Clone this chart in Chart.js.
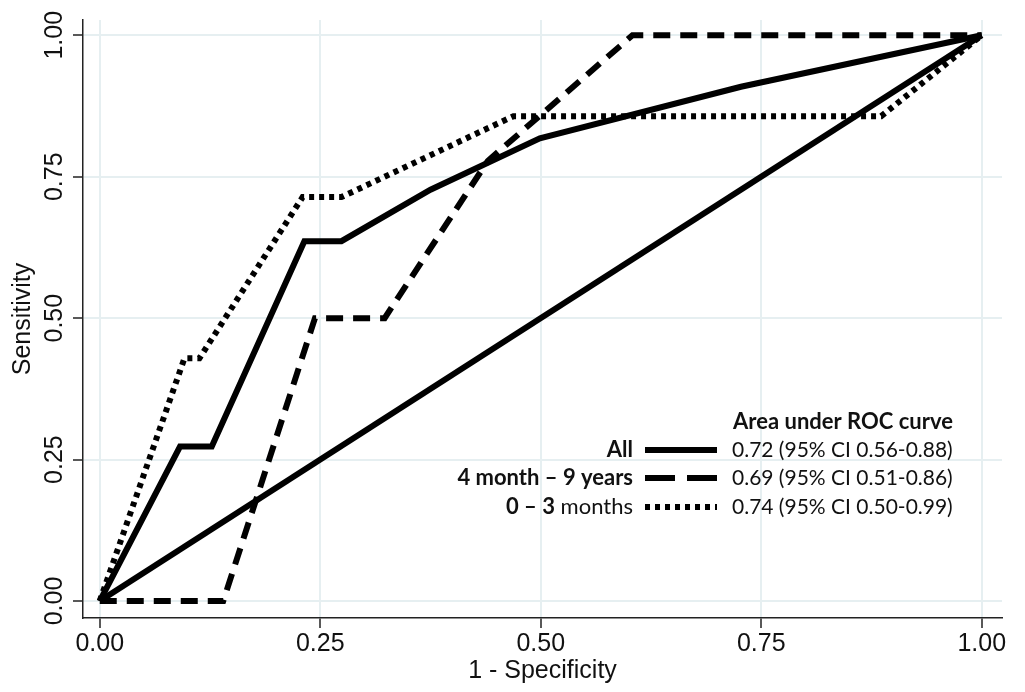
<!DOCTYPE html>
<html lang="en">
<head>
  <meta charset="UTF-8" />
  <title>ROC curves</title>
  <script src="https://cdn.jsdelivr.net/npm/chart.js"></script>
  <style>
    html, body {
      margin: 0;
      padding: 0;
      background: #fff;
    }
    canvas {
      display: block;
    }
  </style>
</head>
<body>
  <canvas id="rocChart" width="1025" height="692"></canvas>

  <script>
    // axis ticks
    const tickValues = [0, 0.25, 0.5, 0.75, 1];
    const tickLabels = ['0.00', '0.25', '0.50', '0.75', '1.00'];

    // reference diagonal
    const refX = [0, 1];
    const refY = [0, 1];

    // All
    const allX = [0, 0.091, 0.127, 0.232, 0.274, 0.375, 0.499, 0.727, 1];
    const allY = [0, 0.273, 0.273, 0.636, 0.636, 0.727, 0.818, 0.909, 1];

    // 4 month - 9 years
    const olderX = [0, 0.14, 0.244, 0.323, 0.44, 0.604, 1];
    const olderY = [0, 0, 0.5, 0.5, 0.778, 1, 1];

    // 0 - 3 months
    const infantX = [0, 0.096, 0.113, 0.23, 0.274, 0.469, 0.886, 1];
    const infantY = [0, 0.429, 0.429, 0.714, 0.714, 0.857, 0.857, 1];

    const aucTitle = 'Area under ROC curve';
    const aucLabels = ['0.72 (95% CI 0.56-0.88)', '0.69 (95% CI 0.51-0.86)', '0.74 (95% CI 0.50-0.99)'];

    const toPoints = (xs, ys) => xs.map((x, i) => ({ x: x, y: ys[i] }));

    const solid = [];
    const dashed = [17, 10];
    const dotted = [5, 5];

    const axisFamily = '"Liberation Sans", Arial, sans-serif';
    const axisFont = { family: axisFamily, size: 25, lineHeight: 1 };
    const legendFont = 'Lato, "Open Sans", sans-serif';

    const fixTicks = (scale) => {
      scale.ticks = tickValues.map(v => ({ value: v }));
    };

    // y tick labels are drawn upright (rotated) like the original
    const yTickPlugin = {
      id: 'yTicks',
      afterDraw(chart) {
        const ctx = chart.ctx;
        const y = chart.scales.y;
        ctx.save();
        ctx.fillStyle = '#111';
        ctx.font = '25px ' + axisFamily;
        ctx.textAlign = 'center';
        ctx.textBaseline = 'middle';
        tickValues.forEach((v, i) => {
          ctx.save();
          ctx.translate(55, y.getPixelForValue(v));
          ctx.rotate(-Math.PI / 2);
          ctx.fillText(tickLabels[i], 0, 0);
          ctx.restore();
        });
        ctx.restore();
      }
    };

    const legendPlugin = {
      id: 'aucLegend',
      afterDraw(chart) {
        const ctx = chart.ctx;
        ctx.save();
        ctx.fillStyle = '#111';
        ctx.textBaseline = 'middle';

        ctx.font = 'bold 22px ' + legendFont;
        ctx.textAlign = 'center';
        ctx.fillText(aucTitle, 843, 422);

        const rows = [450, 478, 507];
        const samples = [solid, [30, 12], [5, 5]];

        // left labels, right aligned
        ctx.textAlign = 'right';
        ctx.font = 'bold 22px ' + legendFont;
        ctx.fillText('All', 633, rows[0]);
        ctx.fillText('4 month \u2013 9 years', 633, rows[1]);
        ctx.font = '22px ' + legendFont;
        const monthsW = ctx.measureText(' months').width;
        ctx.fillText(' months', 633, rows[2]);
        ctx.font = 'bold 22px ' + legendFont;
        ctx.fillText('0 \u2013 3', 633 - monthsW, rows[2]);

        // line samples
        ctx.strokeStyle = '#000';
        ctx.lineWidth = 6;
        rows.forEach((ry, i) => {
          ctx.setLineDash(samples[i]);
          ctx.beginPath();
          ctx.moveTo(645, ry);
          ctx.lineTo(717, ry);
          ctx.stroke();
        });
        ctx.setLineDash([]);

        ctx.textAlign = 'left';
        ctx.font = '21px ' + legendFont;
        aucLabels.forEach((t, i) => ctx.fillText(t, 732, rows[i]));
        ctx.restore();
      }
    };

    const lineStyle = (dash) => ({
      borderColor: '#000',
      borderWidth: 6,
      borderDash: dash,
      borderCapStyle: 'butt',
      borderJoinStyle: 'miter',
      pointRadius: 0,
      fill: false,
      tension: 0
    });

    new Chart(document.getElementById('rocChart'), {
      type: 'line',
      data: {
        datasets: [
          Object.assign({ label: 'Reference', data: toPoints(refX, refY) }, lineStyle(solid)),
          Object.assign({ label: 'All', data: toPoints(allX, allY) }, lineStyle(solid)),
          Object.assign({ label: '4 month - 9 years', data: toPoints(olderX, olderY) }, lineStyle(dashed)),
          Object.assign({ label: '0 - 3 months', data: toPoints(infantX, infantY) }, lineStyle(dotted))
        ]
      },
      options: {
        responsive: false,
        animation: false,
        layout: { padding: { left: 0, right: 23, top: 20, bottom: 0 } },
        plugins: {
          legend: { display: false },
          tooltip: { enabled: false }
        },
        scales: {
          x: {
            type: 'linear',
            min: -0.019,
            max: 1.023,
            afterBuildTicks: fixTicks,
            afterFit: (s) => { s.height = 74; },
            grid: { color: '#e6eff1', lineWidth: 2, tickColor: '#222', tickWidth: 1.5, tickLength: 10 },
            border: { display: true, color: '#222', width: 1.5 },
            ticks: {
              color: '#111',
              font: axisFont,
              padding: 4,
              maxRotation: 0,
              callback: (v) => tickLabels[tickValues.indexOf(v)]
            },
            title: {
              display: true,
              text: '1 - Specificity',
              color: '#111',
              font: { family: axisFamily, size: 25, lineHeight: 1.2 },
              padding: { top: 0, bottom: 6 }
            }
          },
          y: {
            type: 'linear',
            min: -0.030,
            max: 1.027,
            afterBuildTicks: fixTicks,
            afterFit: (s) => { s.width = 83; },
            grid: { color: '#e6eff1', lineWidth: 2, tickColor: '#222', tickWidth: 1.5, tickLength: 10 },
            border: { display: true, color: '#222', width: 1.5 },
            ticks: { display: false },
            title: {
              display: true,
              text: 'Sensitivity',
              color: '#111',
              font: { family: axisFamily, size: 25, lineHeight: 1.2 },
              padding: { top: 8, bottom: 0 }
            }
          }
        }
      },
      plugins: [yTickPlugin, legendPlugin]
    });
  </script>
</body>
</html>
